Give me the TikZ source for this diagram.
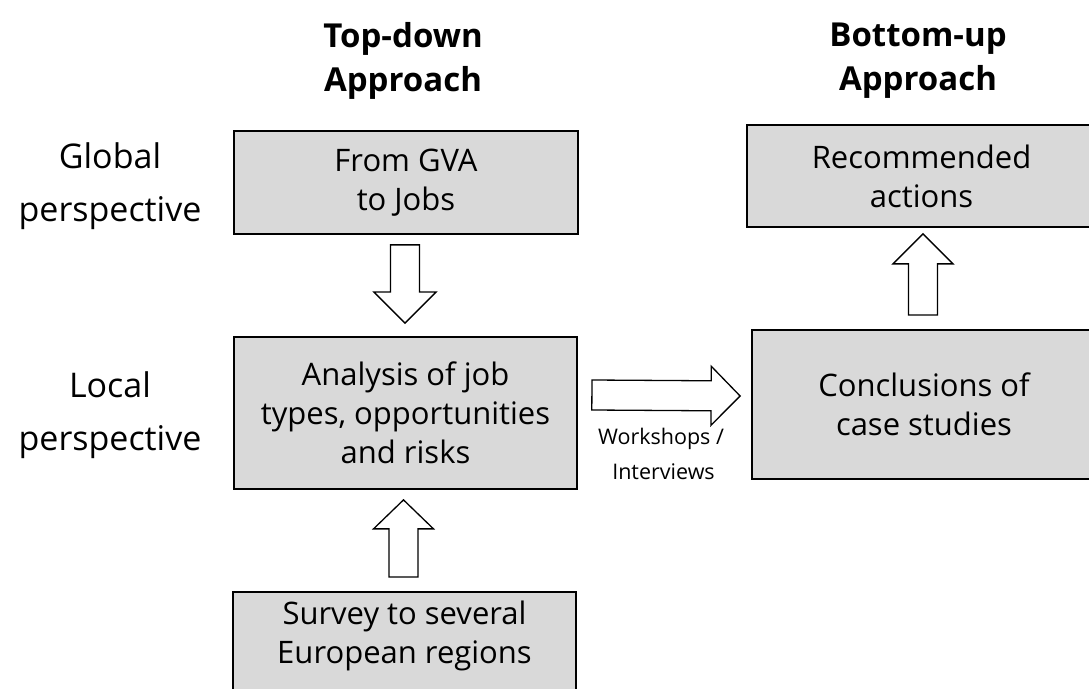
\documentclass[tikz,border=0pt]{standalone}
\usepackage{fontspec}
\setmainfont{Open Sans}
\usetikzlibrary{calc}
\definecolor{boxgray}{HTML}{D9D9D9}
\tikzset{
  box/.style={draw=black, line width=1.8pt, fill=boxgray, inner sep=0pt, align=center,
    font=\fontsize{31}{39}\selectfont},
  sidelabel/.style={align=center, inner sep=0pt, font=\fontsize{34}{53}\selectfont},
  title/.style={align=center, inner sep=0pt, font=\fontsize{33}{44}\selectfont\bfseries},
  small/.style={align=center, inner sep=0pt, font=\fontsize{21.5}{35}\selectfont},
  blockarrow/.style={draw=black, line width=1.3pt, fill=white, line join=miter}
}
% #1 tail, #2 tip, #3 head length, #4 shaft half width, #5 head half width
\newcommand{\blockarr}[5]{%
  \draw[blockarrow] let \p1=(#1), \p2=(#2), \n1={atan2(\y2-\y1,\x2-\x1)}, \n2={veclen(\x2-\x1,\y2-\y1)} in
    [shift={(\p1)}, rotate=\n1]
    (0,-#4) -- (\n2-#3,-#4) -- (\n2-#3,-#5) -- (\n2,0) -- (\n2-#3,#5) -- (\n2-#3,#4) -- (0,#4) -- cycle;}
\begin{document}
\begin{tikzpicture}[x=1pt,y=1pt]
\useasboundingbox (0,0) rectangle (1089,688);
\clip (0,0) rectangle (1089,688);
\fill[white] (0,0) rectangle (1089,688);

% titles
\node[title] (t1) at (403,627) {Top-down\\Approach};
\node[title] (t2) at (918,627) {Bottom-up\\Approach};

% side labels
\node[sidelabel] (g) at (110,502) {Global\\perspective};
\node[sidelabel] (l) at (110,273) {Local\\perspective};

% boxes
\node[box, minimum width=344pt, minimum height=103pt] (gva) at (406,505.5) {From GVA\\to Jobs};
\node[box, minimum width=343pt, minimum height=152pt] (ana) at (405.5,275) {Analysis of job\\types, opportunities\\and risks};
\node[box, minimum width=343pt, minimum height=130pt] (sur) at (404.5,31) {};
\node[font=\fontsize{31}{39}\selectfont, align=center, inner sep=0pt] (surt) at (404.5,52) {Survey to several\\European regions};
\node[box, minimum width=344pt, minimum height=149pt] (con) at (924,283.5) {Conclusions of\\case studies};
\node[box, minimum width=349pt, minimum height=102pt] (rec) at (921.5,512) {Recommended\\actions};

% connector label
\node[small] (ws) at (661,234) {Workshops /\\\hspace*{5pt}Interviews};

% block arrows
\coordinate (a1s) at ($(gva.south)+(-1,-10)$);
\coordinate (a1e) at ($(ana.north)+(-0.5,13)$);
\blockarr{a1s}{a1e}{31}{14.5}{31}

\coordinate (a2s) at ($(sur.north)+(-1,14)$);
\coordinate (a2e) at ($(ana.south)+(-2,-10)$);
\blockarr{a2s}{a2e}{29}{14.5}{30}

\coordinate (a3s) at ($(ana.east)+(14,18)$);
\coordinate (a3e) at ($(con.west)+(-11,8.5)$);
\blockarr{a3s}{a3e}{29}{15}{29.5}

\coordinate (a4s) at ($(con.north)+(-1,14)$);
\coordinate (a4e) at ($(rec.south)+(1.5,-6)$);
\blockarr{a4s}{a4e}{30}{14.5}{30}
\end{tikzpicture}
\end{document}
